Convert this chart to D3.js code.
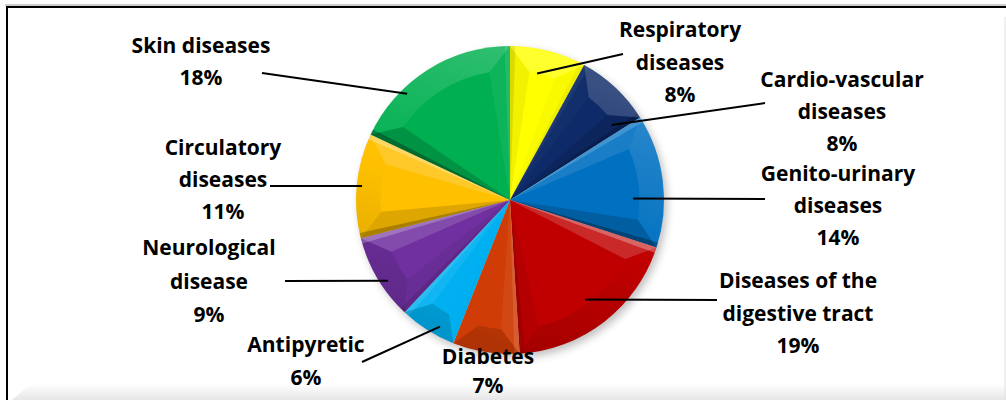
<!DOCTYPE html>
<html>
<head>
<meta charset="utf-8">
<script src="https://cdn.jsdelivr.net/npm/d3@7/dist/d3.min.js"></script>
<style>
  html, body { margin: 0; padding: 0; background: #fff; }
  svg { display: block; }
  text { font-family: "Open Sans", Lato, sans-serif; font-weight: 700; fill: #000; }
</style>
</head>
<body>
<svg id="chart" width="1006" height="400"></svg>
<script>
// ---- data ----
const categories = ["Respiratory diseases", "Cardio-vascular diseases", "Genito-urinary diseases",
  "Diseases of the digestive tract", "Diabetes", "Antipyretic", "Neurological disease",
  "Circulatory diseases", "Skin diseases"];
const values = [8, 8, 14, 19, 7, 6, 9, 11, 18];
const labelLines = [["Respiratory", "diseases"], ["Cardio-vascular", "diseases"], ["Genito-urinary", "diseases"],
  ["Diseases of the", "digestive tract"], ["Diabetes"], ["Antipyretic"], ["Neurological", "disease"],
  ["Circulatory", "diseases"], ["Skin diseases"]];
const colors = ["#FFFF00", "#0E2A68", "#0070C0", "#C00000", "#CF3C06", "#00B0F0", "#7030A0", "#FFC000", "#00B050"];

// ---- layout (label text anchor: centre x, first baseline y; leader: start point, end polar frac within slice) ----
const labelLayout = [
  { x: 680, y: 37, lh: 32.5, lead: [623, 54], end: [0.42, 0.84] },
  { x: 842, y: 87, lh: 32, lead: [765, 103], end: [0.86, 0.82] },
  { x: 838, y: 181, lh: 32, lead: [765, 199], end: [0.63, 0.80] },
  { x: 798, y: 288, lh: 32.5, lead: [717, 300], end: [0.51, 0.81] },
  { x: 488, y: 364, lh: 29, lead: null, end: null },
  { x: 306, y: 352, lh: 33, lead: [362, 362], end: [0.34, 0.94] },
  { x: 209, y: 255, lh: 33.5, lead: [285, 281], end: [0.41, 0.95] },
  { x: 223, y: 155, lh: 32, lead: [270, 186], end: [0.5, 0.965] },
  { x: 201, y: 53, lh: 32, lead: [262, 73], end: [0.32, 0.96] }
];

const W = 1006, H = 400;
const cx = 510, cy = 200, R = 154;
const svg = d3.select("#chart");
const defs = svg.append("defs");

// frame
const bandGrad = defs.append("linearGradient").attr("id", "band").attr("x1", 0).attr("y1", 0).attr("x2", 0).attr("y2", 1);
bandGrad.append("stop").attr("offset", 0).attr("stop-color", "#ffffff");
bandGrad.append("stop").attr("offset", 1).attr("stop-color", "#e6e6e6");
svg.append("path").attr("d", `M30,384 L${W},384 L${W},${H} L12,${H} Z`).attr("fill", "url(#band)");
svg.append("line").attr("x1", 5).attr("x2", W).attr("y1", 5).attr("y2", 5).attr("stroke", "#9a9a9a").attr("stroke-width", 1);
svg.append("line").attr("x1", 6).attr("x2", W).attr("y1", 7).attr("y2", 7).attr("stroke", "#000").attr("stroke-width", 2);
svg.append("line").attr("x1", 7).attr("x2", 7).attr("y1", 6).attr("y2", H).attr("stroke", "#000").attr("stroke-width", 2);
svg.append("line").attr("x1", 1005).attr("x2", 1005).attr("y1", 17).attr("y2", H).attr("stroke", "#e2e2e2").attr("stroke-width", 1);

// shadow filter
const f = defs.append("filter").attr("id", "shadow").attr("x", "-20%").attr("y", "-20%").attr("width", "140%").attr("height", "140%");
f.append("feGaussianBlur").attr("stdDeviation", 4);

// light from top (slightly right)
const lightAng = 20 * Math.PI / 180;
const L = [Math.sin(lightAng), -Math.cos(lightAng)];
const rimGrad = defs.append("linearGradient").attr("id", "rim").attr("gradientUnits", "userSpaceOnUse")
  .attr("x1", cx - R * L[0]).attr("y1", cy - R * L[1]).attr("x2", cx + R * L[0]).attr("y2", cy + R * L[1]);
rimGrad.append("stop").attr("offset", 0).attr("stop-color", "#000").attr("stop-opacity", 0.18);
rimGrad.append("stop").attr("offset", 0.5).attr("stop-color", "#000").attr("stop-opacity", 0);
rimGrad.append("stop").attr("offset", 0.5).attr("stop-color", "#fff").attr("stop-opacity", 0);
rimGrad.append("stop").attr("offset", 1).attr("stop-color", "#fff").attr("stop-opacity", 0.18);

const pie = d3.pie().sort(null).value(d => d)(values);
const arc = d3.arc().innerRadius(0).outerRadius(R);

const g = svg.append("g").attr("transform", `translate(${cx},${cy})`);
g.append("circle").attr("cx", 3).attr("cy", 4).attr("r", R).attr("fill", "#000").attr("opacity", 0.25).attr("filter", "url(#shadow)");

const pt = (a, r) => [r * Math.sin(a), -r * Math.cos(a)];
const shade = (dot, k) => dot >= 0 ? { c: "#fff", o: k * dot } : { c: "#000", o: -k * dot };

pie.forEach((d, i) => {
  const a0 = d.startAngle, a1 = d.endAngle;
  g.append("path").attr("d", arc(d)).attr("fill", colors[i]);
  const delta = Math.min(0.3 * (a1 - a0), 0.16);
  const ri = R * 0.84;
  const P0 = pt(a0, R), P1 = pt(a1, R), Q0 = pt(a0 + delta, ri), Q1 = pt(a1 - delta, ri);
  // start edge facet
  const n0 = a0 - Math.PI / 2;
  const s0 = shade(Math.cos(n0 - lightAng), 0.16);
  g.append("path").attr("d", `M0,0 L${P0} L${Q0} Z`).attr("fill", s0.c).attr("fill-opacity", s0.o);
  const n1 = a1 + Math.PI / 2;
  const s1 = shade(Math.cos(n1 - lightAng), 0.16);
  g.append("path").attr("d", `M0,0 L${P1} L${Q1} Z`).attr("fill", s1.c).attr("fill-opacity", s1.o);
  // narrow edge bevel strips
  const e0 = shade(Math.cos(n0 - lightAng), 0.28);
  g.append("path").attr("d", `M0,0 L${P0} L${pt(a0 + 0.035, R)} Z`).attr("fill", e0.c).attr("fill-opacity", e0.o);
  const e1 = shade(Math.cos(n1 - lightAng), 0.28);
  g.append("path").attr("d", `M0,0 L${P1} L${pt(a1 - 0.035, R)} Z`).attr("fill", e1.c).attr("fill-opacity", e1.o);
  // rim facet
  const rimPath = `M${P0} A${R},${R} 0 ${a1 - a0 > Math.PI ? 1 : 0} 1 ${P1} L${Q1} A${ri},${ri} 0 0 0 ${Q0} Z`;
  g.append("path").attr("d", rimPath).attr("fill", "url(#rim)");
});

// labels & leader lines
const labels = svg.append("g");
pie.forEach((d, i) => {
  const lay = labelLayout[i];
  const lines = labelLines[i].concat([d3.format(".0f")(values[i]) + "%"]);
  const t = labels.append("text").attr("text-anchor", "middle").attr("font-size", 21);
  lines.forEach((s, j) => {
    t.append("tspan").attr("x", lay.x).attr("y", lay.y + j * lay.lh).text(s);
  });
  if (lay.lead) {
    const a = d.startAngle + lay.end[0] * (d.endAngle - d.startAngle);
    const e = pt(a, lay.end[1] * R);
    labels.append("line").attr("x1", lay.lead[0]).attr("y1", lay.lead[1])
      .attr("x2", cx + e[0]).attr("y2", cy + e[1]).attr("stroke", "#000").attr("stroke-width", 2);
  }
});
</script>
</body>
</html>
